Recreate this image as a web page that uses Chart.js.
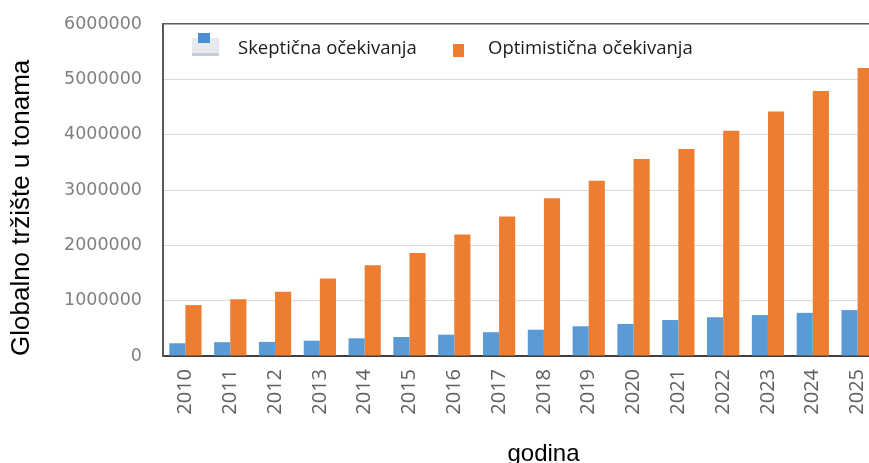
<html><head>
<script src="https://cdn.jsdelivr.net/npm/chart.js"></script>
<title>Globalno tržište u tonama</title>
<style>
body {
  margin: 0;
  overflow: hidden;
  background: #fff;
}
#wrap {
  position: relative;
  width: 884px;
  height: 472px;
}
#chart {
  display: block;
}
.legend-text {
  position: absolute;
  top: 37px;
  font-family: "Open Sans", sans-serif;
  font-size: 18.5px;
  line-height: 20px;
  color: #1a1a1a;
  white-space: nowrap;
}
.sw {
  position: absolute;
}
</style>
</head>
<body>
<div id="wrap">
  <canvas id="chart" width="884" height="472"></canvas>
  <div class="sw" style="left:192px;top:38px;width:27px;height:15px;background:#e6e9ed;border-bottom:3px solid #c6cfd8"></div>
  <div class="sw" style="left:198px;top:33px;width:12px;height:10px;background:#4a8fd6"></div>
  <span class="legend-text" id="leg0" style="left:238px"></span>
  <div class="sw" style="left:453px;top:44px;width:11px;height:13px;background:#ed7d31"></div>
  <span class="legend-text" id="leg1" style="left:488px"></span>
</div>

<script>
const years = ['2010', '2011', '2012', '2013', '2014', '2015', '2016', '2017',
               '2018', '2019', '2020', '2021', '2022', '2023', '2024', '2025'];
const skepticalLabel = 'Skeptična očekivanja';
const optimisticLabel = 'Optimistična očekivanja';
const skeptical = [230000, 250000, 255000, 277000, 320000, 343000, 385000, 430000,
                   475000, 537000, 580000, 650000, 700000, 740000, 780000, 830000];
const optimistic = [920000, 1025000, 1160000, 1400000, 1640000, 1860000, 2195000, 2520000,
                    2850000, 3165000, 3560000, 3740000, 4070000, 4420000, 4790000, 5205000];
const yTicks = [0, 1000000, 2000000, 3000000, 4000000, 5000000, 6000000];
const yTitle = 'Globalno tržište u tonama';
const xTitle = 'godina';

document.getElementById('leg0').textContent = skepticalLabel;
document.getElementById('leg1').textContent = optimisticLabel;

const ctx = document.getElementById('chart').getContext('2d');

// the x title sits a bit right of the plot centre in the original
function shiftTitle(scale, dx) {
  if (scale._shifted) return;
  const orig = scale.drawTitle;
  scale.drawTitle = function() {
    this.ctx.save();
    this.ctx.translate(dx, 0);
    orig.call(this);
    this.ctx.restore();
  };
  scale._shifted = true;
}

new Chart(ctx, {
  type: 'bar',
  data: {
    labels: years,
    datasets: [{
      label: skepticalLabel,
      data: skeptical,
      backgroundColor: '#5b9bd5'
    }, {
      label: optimisticLabel,
      data: optimistic,
      backgroundColor: '#ed7d31'
    }]
  },
  options: {
    responsive: false,
    animation: false,
    devicePixelRatio: 1,
    datasets: {
      bar: {
        categoryPercentage: 0.72,
        barPercentage: 1
      }
    },
    layout: {
      padding: { top: 24, left: 0, right: 4, bottom: 3 }
    },
    plugins: {
      legend: { display: false },
      tooltip: { enabled: false }
    },
    scales: {
      x: {
        afterFit: (scale) => {
          scale.height = 113;
          scale.paddingLeft = 0;
          scale.paddingRight = 0;
          shiftTitle(scale, 22);
        },
        grid: { display: false, drawTicks: false },
        border: { color: '#3f3f3f', width: 2 },
        ticks: {
          autoSkip: false,
          minRotation: 90,
          maxRotation: 90,
          padding: 13,
          color: '#5f5f5f',
          font: { family: 'Open Sans', size: 20 }
        },
        title: {
          display: true,
          text: xTitle,
          color: '#000',
          padding: 0,
          font: { family: 'Liberation Sans', size: 24 }
        }
      },
      y: {
        min: 0,
        max: 6000000,
        afterFit: (scale) => {
          scale.width = 163;
          scale.paddingTop = 0;
          scale.paddingBottom = 0;
        },
        afterBuildTicks: (scale) => { scale.ticks = yTicks.map(v => ({ value: v })); },
        grid: {
          drawTicks: false,
          color: (c) => c.tick && c.tick.value === 6000000 ? '#5a5a5a' : '#d9d9d9',
          lineWidth: (c) => c.tick && c.tick.value === 6000000 ? 1.5 : 1
        },
        border: { color: '#5a5a5a', width: 2 },
        ticks: {
          padding: 21,
          color: '#808080',
          font: { family: 'DejaVu Sans', size: 17.5 },
          callback: (v) => String(v)
        },
        title: {
          display: true,
          text: yTitle,
          align: 'start',
          color: '#000',
          padding: { top: 6, bottom: 0 },
          font: { family: 'Liberation Sans', size: 26 }
        }
      }
    }
  }
});
</script>
</body></html>
